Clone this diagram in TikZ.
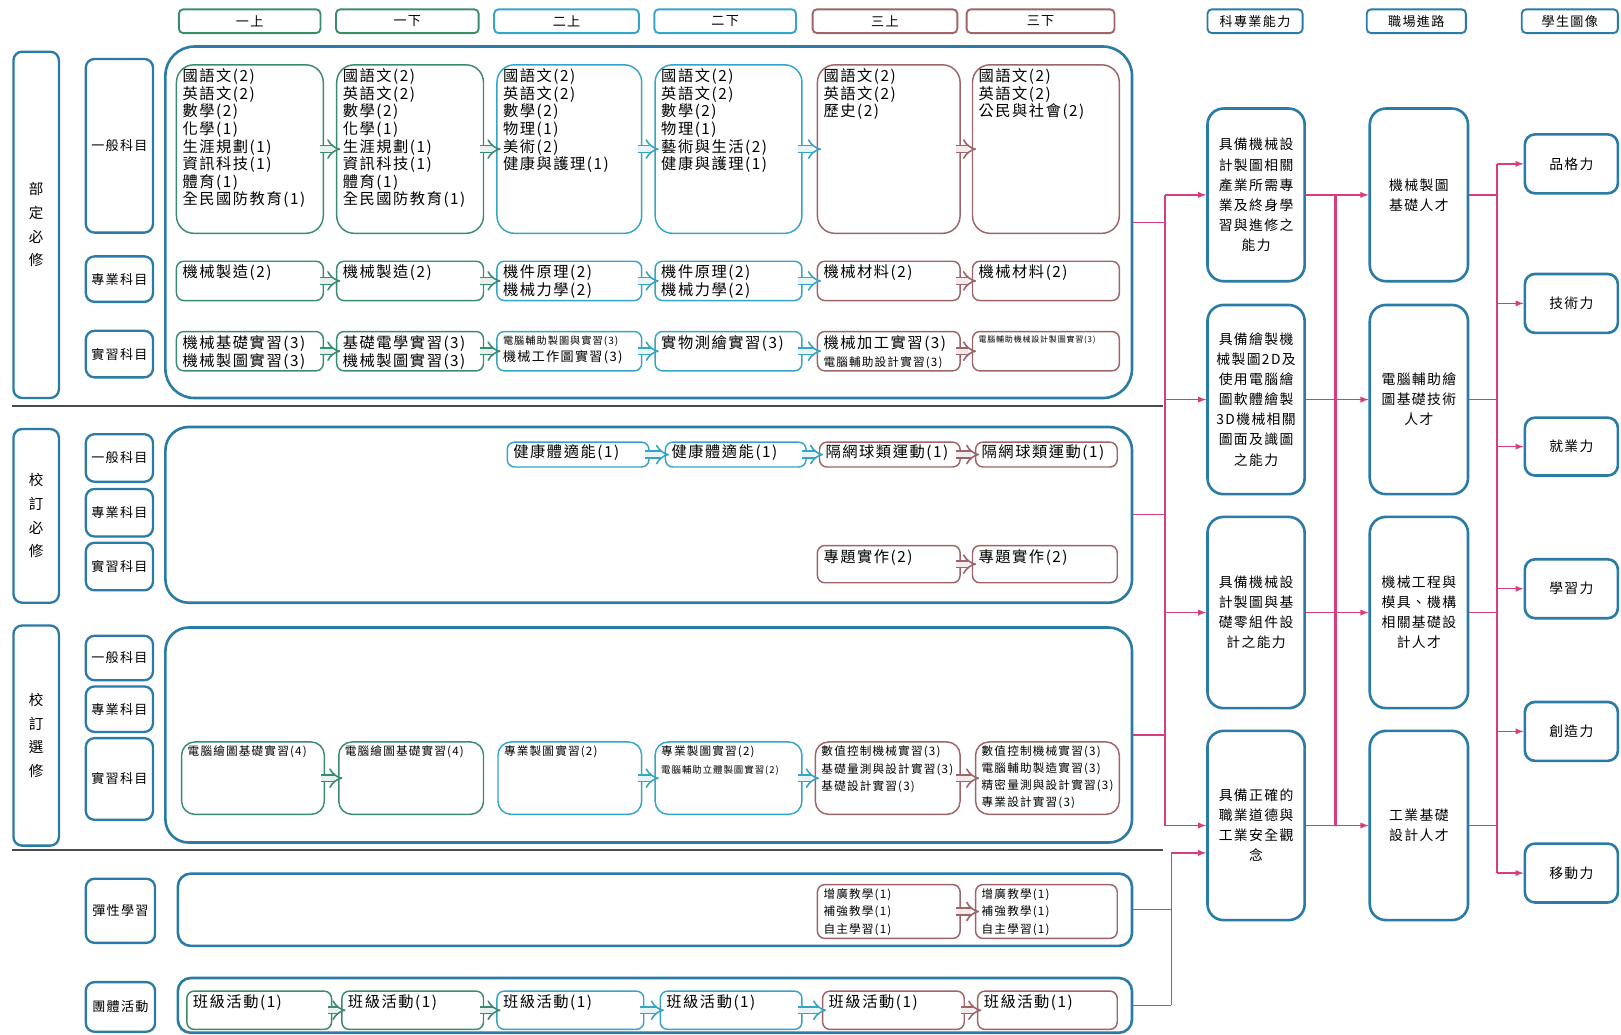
\documentclass[tikz,border=0pt]{standalone}
\usepackage{fontspec}
\setmainfont{Noto Sans CJK TC}[LetterSpace=10]
\usepackage{xcolor}
\usepackage{tikz}
\usetikzlibrary{arrows.meta}
\usetikzlibrary{positioning}
\definecolor{yearOne}{HTML}{3A8C6C}
\definecolor{yearTwo}{HTML}{36A4C6}
\definecolor{yearThree}{HTML}{9E6468}
\definecolor{frameBlue}{HTML}{2A7BA5}
\definecolor{linkPink}{HTML}{D83C7E}
\definecolor{sepGray}{HTML}{4A4A4A}
\tikzset{>=latex}
\tikzset{course-box/.style={draw, line width=1pt, rounded corners=5pt, inner sep=0, fill=white}}
\tikzset{tall-box/.style={rounded corners=12pt}}
\tikzset{yr1-box/.style={draw=yearOne}}
\tikzset{yr2-box/.style={draw=yearTwo}}
\tikzset{yr3-box/.style={draw=yearThree}}
\tikzset{course-text/.style={inner sep=0, align=left, font=\fontsize{10.5}{12.1}\selectfont}}
\tikzset{mid-text/.style={font=\fontsize{8}{12.1}\selectfont}}
\tikzset{head-box/.style={draw, line width=1.3pt, rounded corners=3pt, inner sep=0, font=\fontsize{9}{10}\selectfont}}
\tikzset{side-box/.style={draw=frameBlue, line width=1.6pt, rounded corners=6pt, inner sep=0, align=center, font=\fontsize{9}{10}\selectfont}}
\tikzset{sec-box/.style={side-box, font=\fontsize{10}{16.3}\selectfont}}
\tikzset{frame-box/.style={draw=frameBlue, line width=1.8pt, rounded corners=20pt, inner sep=0}}
\tikzset{goal-box/.style={draw=frameBlue, line width=1.8pt, rounded corners=11pt, inner sep=0, align=center, font=\fontsize{9.5}{13.8}\selectfont}}
\tikzset{pic-box/.style={goal-box, rounded corners=7pt}}
\tikzset{step-arrow/.style={draw=#1, double=#1!12, double distance=3.6pt, line width=1.1pt, -{Implies}, shorten <=-3pt, shorten >=-3pt}}
\tikzset{link/.style={draw=linkPink, line width=0.9pt}}
\tikzset{sep-line/.style={draw=sepGray, line width=1.4pt}}
\newcommand{\labelbox}[7]{
    \node[#6, minimum width={(#4-#2)*0.025cm}, minimum height={(#5-#3)*0.025cm}] (#1) at ({(#2+#4)/2}, {(#3+#5)/2}) {#7};
}
\newcommand{\coursebox}[8]{
    \node[course-box, #6, anchor=north west, minimum width={(#4-#2)*0.025cm}, minimum height={(#5-#3)*0.025cm}] (#1) at (#2, #3) {};
    \node[course-text, #7, anchor=north west] (#1-text) at ([xshift=4.5pt, yshift=-3pt]#1.north west) {#8};
}

\begin{document}
\begin{tikzpicture}[x=0.025cm, y=-0.025cm]
    \useasboundingbox (0,0) rectangle (1568,1001);

    % headers
    \labelbox{head1}{173}{9}{310}{32}{head-box, draw=yearOne}{一上}
    \labelbox{head2}{325}{9}{463}{32}{head-box, draw=yearOne}{一下}
    \labelbox{head3}{478}{9}{618}{32}{head-box, draw=yearTwo}{二上}
    \labelbox{head4}{633}{9}{770}{32}{head-box, draw=yearTwo}{二下}
    \labelbox{head5}{786}{9}{926}{32}{head-box, draw=yearThree}{三上}
    \labelbox{head6}{935}{9}{1078}{32}{head-box, draw=yearThree}{三下}
    \labelbox{head7}{1168}{9}{1260}{32}{head-box, draw=frameBlue}{科專業能力}
    \labelbox{head8}{1322}{9}{1418}{32}{head-box, draw=frameBlue}{職場進路}
    \labelbox{head9}{1472}{9}{1565}{32}{head-box, draw=frameBlue}{學生圖像}

    % left labels
    \labelbox{sec1}{13}{50}{57}{385}{sec-box}{部\\定\\必\\修}
    \labelbox{sec2}{13}{415}{57}{583}{sec-box}{校\\訂\\必\\修}
    \labelbox{sec3}{13}{605}{57}{818}{sec-box}{校\\訂\\選\\修}
    \labelbox{gen1}{83}{57}{148}{225}{side-box}{一般科目}
    \labelbox{pro1}{83}{248}{148}{292}{side-box}{專業科目}
    \labelbox{lab1}{83}{320}{148}{365}{side-box}{實習科目}
    \labelbox{gen2}{83}{420}{148}{466}{side-box}{一般科目}
    \labelbox{pro2}{83}{473}{148}{519}{side-box}{專業科目}
    \labelbox{lab2}{83}{525}{148}{571}{side-box}{實習科目}
    \labelbox{gen3}{83}{615}{148}{658}{side-box}{一般科目}
    \labelbox{pro3}{83}{664}{148}{708}{side-box}{專業科目}
    \labelbox{lab3}{83}{714}{148}{793}{side-box}{實習科目}
    \labelbox{flex}{83}{850}{150}{912}{side-box}{彈性學習}
    \labelbox{club}{83}{950}{150}{998}{side-box}{團體活動}

    % frames
    \labelbox{frame1}{160}{45}{1095}{385}{frame-box}{}
    \labelbox{frame2}{160}{413}{1095}{583}{frame-box, rounded corners=16pt}{}
    \labelbox{frame3}{160}{607}{1095}{815}{frame-box, rounded corners=16pt}{}
    \labelbox{frame4}{172}{845}{1095}{915}{frame-box, rounded corners=9pt}{}
    \labelbox{frame5}{172}{946}{1095}{999}{frame-box, rounded corners=9pt}{}
    \draw[sep-line] (12,393) -- (1125,393);
    \draw[sep-line] (12,822) -- (1125,822);

    % required, general
    \coursebox{r1c1}{170}{62}{312}{225}{yr1-box, tall-box}{}{國語文(2)\\英語文(2)\\數學(2)\\化學(1)\\生涯規劃(1)\\資訊科技(1)\\體育(1)\\全民國防教育(1)}
    \coursebox{r1c2}{325}{62}{467}{225}{yr1-box, tall-box}{}{國語文(2)\\英語文(2)\\數學(2)\\化學(1)\\生涯規劃(1)\\資訊科技(1)\\體育(1)\\全民國防教育(1)}
    \coursebox{r1c3}{480}{62}{620}{225}{yr2-box, tall-box}{}{國語文(2)\\英語文(2)\\數學(2)\\物理(1)\\美術(2)\\健康與護理(1)}
    \coursebox{r1c4}{633}{62}{775}{225}{yr2-box, tall-box}{}{國語文(2)\\英語文(2)\\數學(2)\\物理(1)\\藝術與生活(2)\\健康與護理(1)}
    \coursebox{r1c5}{790}{62}{928}{225}{yr3-box, tall-box}{}{國語文(2)\\英語文(2)\\歷史(2)}
    \coursebox{r1c6}{940}{62}{1082}{225}{yr3-box, tall-box}{}{國語文(2)\\英語文(2)\\公民與社會(2)}
    % required, professional
    \coursebox{r2c1}{170}{252}{312}{290}{yr1-box}{}{機械製造(2)}
    \coursebox{r2c2}{325}{252}{467}{290}{yr1-box}{}{機械製造(2)}
    \coursebox{r2c3}{480}{252}{620}{290}{yr2-box}{}{機件原理(2)\\機械力學(2)}
    \coursebox{r2c4}{633}{252}{775}{290}{yr2-box}{}{機件原理(2)\\機械力學(2)}
    \coursebox{r2c5}{790}{252}{928}{290}{yr3-box}{}{機械材料(2)}
    \coursebox{r2c6}{940}{252}{1082}{290}{yr3-box}{}{機械材料(2)}
    % required, practice
    \coursebox{r3c1}{170}{320}{312}{358}{yr1-box}{}{機械基礎實習(3)\\機械製圖實習(3)}
    \coursebox{r3c2}{325}{320}{467}{358}{yr1-box}{}{基礎電學實習(3)\\機械製圖實習(3)}
    \coursebox{r3c3}{480}{320}{620}{358}{yr2-box}{}{{\fontsize{7}{12.1}\selectfont 電腦輔助製圖與實習(3)}\\{\fontsize{9}{12.1}\selectfont 機械工作圖實習(3)}}
    \coursebox{r3c4}{633}{320}{775}{358}{yr2-box}{}{實物測繪實習(3)}
    \coursebox{r3c5}{790}{320}{928}{358}{yr3-box}{}{機械加工實習(3)\\{\fontsize{8}{12.1}\selectfont 電腦輔助設計實習(3)}}
    \coursebox{r3c6}{940}{320}{1082}{358}{yr3-box}{}{{\fontsize{5.5}{12.1}\selectfont 電腦輔助機械設計製圖實習(3)}}

    % school required
    \coursebox{s2a3}{490}{427}{627}{451}{yr2-box}{yshift=1pt}{健康體適能(1)}
    \coursebox{s2a4}{643}{427}{779}{451}{yr2-box}{yshift=1pt}{健康體適能(1)}
    \coursebox{s2a5}{792}{427}{928}{451}{yr3-box}{yshift=1pt}{隔網球類運動(1)}
    \coursebox{s2a6}{943}{427}{1080}{451}{yr3-box}{yshift=1pt}{隔網球類運動(1)}
    \coursebox{s2b5}{790}{527}{928}{563}{yr3-box}{}{專題實作(2)}
    \coursebox{s2b6}{940}{527}{1080}{563}{yr3-box}{}{專題實作(2)}

    % school elective
    \coursebox{s3c1}{175}{717}{313}{787}{yr1-box, rounded corners=9pt}{mid-text}{電腦繪圖基礎實習(4)}
    \coursebox{s3c2}{327}{717}{467}{787}{yr1-box, rounded corners=9pt}{mid-text}{電腦繪圖基礎實習(4)}
    \coursebox{s3c3}{481}{717}{620}{787}{yr2-box, rounded corners=9pt}{mid-text}{專業製圖實習(2)}
    \coursebox{s3c4}{633}{717}{775}{787}{yr2-box, rounded corners=9pt}{mid-text}{專業製圖實習(2)\\{\fontsize{6.5}{12.1}\selectfont 電腦輔助立體製圖實習(2)}}
    \coursebox{s3c5}{788}{717}{928}{787}{yr3-box, rounded corners=9pt}{mid-text}{數值控制機械實習(3)\\基礎量測與設計實習(3)\\基礎設計實習(3)}
    \coursebox{s3c6}{943}{717}{1082}{787}{yr3-box, rounded corners=9pt}{font=\fontsize{8}{11.6}\selectfont}{數值控制機械實習(3)\\電腦輔助製造實習(3)\\精密量測與設計實習(3)\\專業設計實習(3)}

    % flexible learning
    \coursebox{s4c5}{790}{855}{928}{907}{yr3-box}{mid-text}{增廣教學(1)\\補強教學(1)\\自主學習(1)}
    \coursebox{s4c6}{943}{855}{1080}{907}{yr3-box}{mid-text}{增廣教學(1)\\補強教學(1)\\自主學習(1)}

    % group activities
    \coursebox{s5c1}{180}{958}{320}{995}{yr1-box}{}{班級活動(1)}
    \coursebox{s5c2}{330}{958}{467}{995}{yr1-box}{}{班級活動(1)}
    \coursebox{s5c3}{480}{958}{622}{995}{yr2-box}{}{班級活動(1)}
    \coursebox{s5c4}{638}{958}{775}{995}{yr2-box}{}{班級活動(1)}
    \coursebox{s5c5}{795}{958}{932}{995}{yr3-box}{}{班級活動(1)}
    \coursebox{s5c6}{945}{958}{1080}{995}{yr3-box}{}{班級活動(1)}

    % semester steps
    \draw[step-arrow=yearOne] (r1c1) -- (r1c2);
    \draw[step-arrow=yearOne] (r1c2) -- (r1c3);
    \draw[step-arrow=yearTwo] (r1c3) -- (r1c4);
    \draw[step-arrow=yearTwo] (r1c4) -- (r1c5);
    \draw[step-arrow=yearThree] (r1c5) -- (r1c6);
    \draw[step-arrow=yearOne] (r2c1) -- (r2c2);
    \draw[step-arrow=yearOne] (r2c2) -- (r2c3);
    \draw[step-arrow=yearTwo] (r2c3) -- (r2c4);
    \draw[step-arrow=yearTwo] (r2c4) -- (r2c5);
    \draw[step-arrow=yearThree] (r2c5) -- (r2c6);
    \draw[step-arrow=yearOne] (r3c1) -- (r3c2);
    \draw[step-arrow=yearOne] (r3c2) -- (r3c3);
    \draw[step-arrow=yearTwo] (r3c3) -- (r3c4);
    \draw[step-arrow=yearTwo] (r3c4) -- (r3c5);
    \draw[step-arrow=yearThree] (r3c5) -- (r3c6);
    \draw[step-arrow=yearTwo] (s2a3) -- (s2a4);
    \draw[step-arrow=yearTwo] (s2a4) -- (s2a5);
    \draw[step-arrow=yearThree] (s2a5) -- (s2a6);
    \draw[step-arrow=yearThree] (s2b5) -- (s2b6);
    \draw[step-arrow=yearOne] (s3c1) -- (s3c2);
    \draw[step-arrow=yearTwo] (s3c3) -- (s3c4);
    \draw[step-arrow=yearTwo] (s3c4) -- (s3c5);
    \draw[step-arrow=yearThree] (s3c5) -- (s3c6);
    \draw[step-arrow=yearThree] (s4c5) -- (s4c6);
    \draw[step-arrow=yearOne] (s5c1) -- (s5c2);
    \draw[step-arrow=yearOne] (s5c2) -- (s5c3);
    \draw[step-arrow=yearTwo] (s5c3) -- (s5c4);
    \draw[step-arrow=yearTwo] (s5c4) -- (s5c5);
    \draw[step-arrow=yearThree] (s5c5) -- (s5c6);

    % abilities, careers, student profile
    \labelbox{abil1}{1168}{105}{1262}{272}{goal-box}{具備機械設\\計製圖相關\\產業所需專\\業及終身學\\習與進修之\\能力}
    \labelbox{abil2}{1168}{295}{1262}{478}{goal-box}{具備繪製機\\械製圖2D及\\使用電腦繪\\圖軟體繪製\\3D機械相關\\圖面及識圖\\之能力}
    \labelbox{abil3}{1168}{500}{1262}{685}{goal-box}{具備機械設\\計製圖與基\\礎零組件設\\計之能力}
    \labelbox{abil4}{1168}{707}{1262}{890}{goal-box}{具備正確的\\職業道德與\\工業安全觀\\念}
    \labelbox{career1}{1325}{105}{1420}{272}{goal-box}{機械製圖\\基礎人才}
    \labelbox{career2}{1325}{295}{1420}{478}{goal-box}{電腦輔助繪\\圖基礎技術\\人才}
    \labelbox{career3}{1325}{500}{1420}{685}{goal-box}{機械工程與\\模具、機構\\相關基礎設\\計人才}
    \labelbox{career4}{1325}{707}{1420}{890}{goal-box}{工業基礎\\設計人才}
    \labelbox{stud1}{1475}{130}{1565}{187}{pic-box}{品格力}
    \labelbox{stud2}{1475}{265}{1565}{322}{pic-box}{技術力}
    \labelbox{stud3}{1475}{404}{1565}{460}{pic-box}{就業力}
    \labelbox{stud4}{1475}{541}{1565}{598}{pic-box}{學習力}
    \labelbox{stud5}{1475}{679}{1565}{736}{pic-box}{創造力}
    \labelbox{stud6}{1475}{816}{1565}{873}{pic-box}{移動力}

    \coordinate (busA) at (1127,0);
    \coordinate (busB) at (1133,825);
    \coordinate (busC) at (1292,0);
    \coordinate (busD) at (1448,0);

    \draw[link] (frame1.east) -- (frame1.east -| busA);
    \draw[link] (frame2.east) -- (frame2.east -| busA);
    \draw[link] (frame3.east) -- (frame3.east -| busA);
    \draw[link] (abil1 -| busA) -- (abil4 -| busA);
    \draw[link, ->] (abil1 -| busA) -- (abil1);
    \draw[link, ->] (abil2 -| busA) -- (abil2);
    \draw[link, ->] (abil3 -| busA) -- (abil3);
    \draw[link, ->] (abil4 -| busA) -- (abil4);
    \draw[link] (frame4.east) -- (frame4.east -| busB);
    \draw[link] (frame5.east) -- (frame5.east -| busB);
    \draw[link] (frame5.east -| busB) -- (busB);
    \draw[link, ->] (busB) -- (busB -| abil4.west);

    \draw[link, line width=1.8pt] (abil1 -| busC) -- (abil4 -| busC);
    \draw[link, ->] (abil1) -- (career1);
    \draw[link, ->] (abil2) -- (career2);
    \draw[link, ->] (abil3) -- (career3);
    \draw[link, ->] (abil4) -- (career4);

    \draw[link] (career1) -- (career1 -| busD);
    \draw[link] (career2) -- (career2 -| busD);
    \draw[link] (career3) -- (career3 -| busD);
    \draw[link] (career4) -- (career4 -| busD);
    \draw[link] (stud1 -| busD) -- (stud6 -| busD);
    \draw[link, ->] (stud1 -| busD) -- (stud1);
    \draw[link, ->] (stud2 -| busD) -- (stud2);
    \draw[link, ->] (stud3 -| busD) -- (stud3);
    \draw[link, ->] (stud4 -| busD) -- (stud4);
    \draw[link, ->] (stud5 -| busD) -- (stud5);
    \draw[link, ->] (stud6 -| busD) -- (stud6);
\end{tikzpicture}
\end{document}
